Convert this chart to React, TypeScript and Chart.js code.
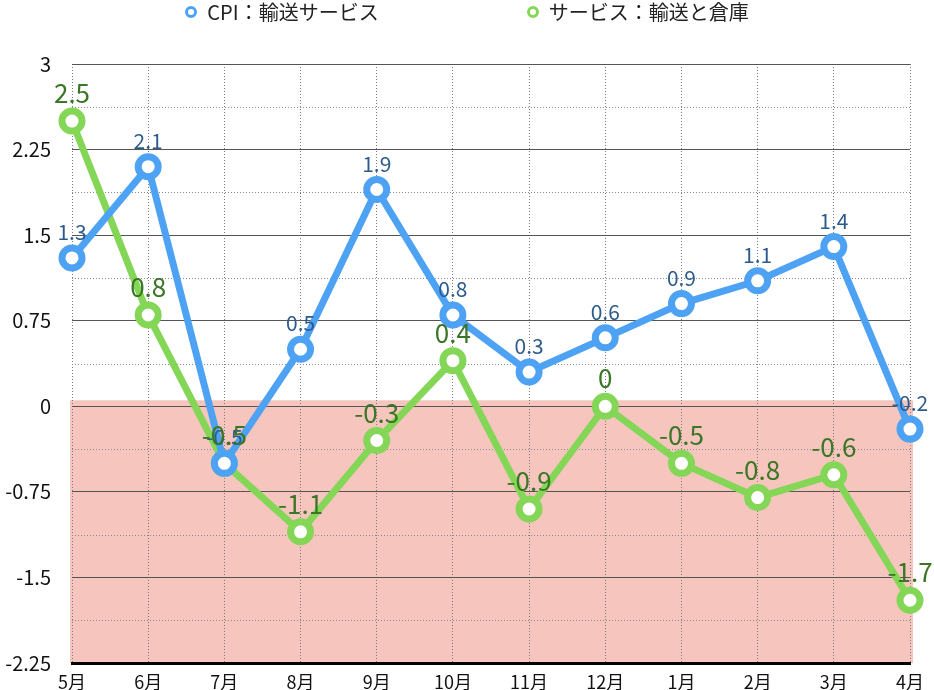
import { useEffect, useRef } from 'react';
import { Chart, registerables, Plugin } from 'chart.js';

Chart.register(...registerables);

const months = ['5月', '6月', '7月', '8月', '9月', '10月', '11月', '12月', '1月', '2月', '3月', '4月'];
const cpiTransport = [1.3, 2.1, -0.5, 0.5, 1.9, 0.8, 0.3, 0.6, 0.9, 1.1, 1.4, -0.2];
const servicesTransport = [2.5, 0.8, -0.5, -1.1, -0.3, 0.4, -0.9, 0, -0.5, -0.8, -0.6, -1.7];
const seriesNames = ['CPI：輸送サービス', 'サービス：輸送と倉庫'];

const BLUE = '#4da2f4';
const GREEN = '#84d657';
const BLUE_LABEL = '#2d5b8c';
const GREEN_LABEL = '#3b7627';
const FONT = '"Noto Sans CJK JP", "Noto Sans", sans-serif';

// pink band for the negative zone, under the grid
const negativeZone: Plugin<'line'> = {
  id: 'negativeZone',
  beforeDraw(chart) {
    const { ctx, chartArea } = chart;
    const y0 = chart.scales.y.getPixelForValue(0) - 6;
    ctx.save();
    ctx.fillStyle = '#f6c5bd';
    ctx.fillRect(chartArea.left - 2, y0, chartArea.right - chartArea.left + 5, chartArea.bottom - y0);
    ctx.restore();
  },
};

// dotted lines on the in-between ticks
const minorGrid: Plugin<'line'> = {
  id: 'minorGrid',
  beforeDatasetsDraw(chart) {
    const { ctx, chartArea } = chart;
    const y = chart.scales.y;
    ctx.save();
    ctx.strokeStyle = '#8a8a8a';
    ctx.lineWidth = 1;
    ctx.setLineDash([1, 2]);
    y.ticks.forEach((t, i) => {
      if (i % 2 === 0) return;
      const py = Math.round(y.getPixelForValue(t.value)) + 0.5;
      ctx.beginPath();
      ctx.moveTo(chartArea.left, py);
      ctx.lineTo(chartArea.right, py);
      ctx.stroke();
    });
    ctx.restore();
  },
};

const valueLabels: Plugin<'line'> = {
  id: 'valueLabels',
  afterDatasetsDraw(chart) {
    const { ctx } = chart;
    const styles = [
      { color: BLUE_LABEL, size: 21 },
      { color: GREEN_LABEL, size: 26 },
    ];
    ctx.save();
    ctx.textAlign = 'center';
    ctx.textBaseline = 'alphabetic';
    chart.data.datasets.forEach((ds, di) => {
      const meta = chart.getDatasetMeta(di);
      ctx.fillStyle = styles[di].color;
      ctx.font = `${styles[di].size}px ${FONT}`;
      meta.data.forEach((pt, i) => {
        ctx.fillText(String(ds.data[i]), pt.x, pt.y - 18);
      });
    });
    ctx.restore();
  },
};

function LegendItem({ label, color }: { label: string; color: string }) {
  return (
    <div style={{ display: 'flex', alignItems: 'center' }}>
      <span
        style={{
          width: 6,
          height: 6,
          borderRadius: '50%',
          border: `3px solid ${color}`,
          background: '#fff',
          marginRight: 10,
        }}
      />
      <span>{label}</span>
    </div>
  );
}

export default function App() {
  const canvasRef = useRef<HTMLCanvasElement>(null);

  useEffect(() => {
    document.body.style.margin = '0';
    if (!canvasRef.current) return;

    const chart = new Chart(canvasRef.current, {
      type: 'line',
      data: {
        labels: months,
        datasets: [
          {
            label: seriesNames[0],
            data: cpiTransport,
            borderColor: BLUE,
            backgroundColor: '#fff',
            borderWidth: 7,
            pointRadius: 10,
            pointBorderWidth: 7,
            pointBackgroundColor: '#fff',
            pointBorderColor: BLUE,
            tension: 0,
            clip: false,
          },
          {
            label: seriesNames[1],
            data: servicesTransport,
            borderColor: GREEN,
            backgroundColor: '#fff',
            borderWidth: 7,
            pointRadius: 10,
            pointBorderWidth: 7,
            pointBackgroundColor: '#fff',
            pointBorderColor: GREEN,
            tension: 0,
            clip: false,
          },
        ],
      },
      options: {
        responsive: false,
        animation: false,
        layout: { padding: { top: 64, right: 24, left: 0, bottom: 0 } },
        plugins: {
          legend: { display: false },
          tooltip: { enabled: false },
        },
        scales: {
          x: {
            afterFit: (s) => {
              s.height = 27;
            },
            grid: {
              color: '#7a7a7a',
              lineWidth: 1,
              drawTicks: false,
            },
            border: { display: true, color: '#000', width: 3, dash: [1, 2] },
            ticks: {
              color: '#111',
              padding: 8,
              font: { size: 18, family: FONT },
              maxRotation: 0,
            },
          },
          y: {
            min: -2.25,
            max: 3,
            afterFit: (s) => {
              s.width = 72;
            },
            afterBuildTicks: (s) => {
              const vals: number[] = [];
              for (let i = 0; i <= 14; i++) vals.push(-2.25 + i * 0.375);
              s.ticks = vals.map((v) => ({ value: v }));
            },
            grid: {
              drawTicks: true,
              tickLength: 21,
              tickColor: 'rgba(0,0,0,0)',
              color: (c) => (c.index % 2 === 0 ? '#555' : 'rgba(0,0,0,0)'),
            },
            border: { display: false },
            ticks: {
              color: '#111',
              padding: 0,
              font: { size: 20, family: FONT },
              callback: (v, i) => (i % 2 === 0 ? String(Number(v)) : ''),
            },
          },
        },
      },
      plugins: [negativeZone, minorGrid, valueLabels],
    });

    return () => {
      chart.destroy();
    };
  }, []);

  return (
    <div style={{ position: 'relative', width: 934, height: 690, fontFamily: FONT }}>
      <div
        style={{
          position: 'absolute',
          top: 0,
          left: 0,
          width: 934,
          display: 'flex',
          justifyContent: 'center',
          gap: 148,
          fontSize: 20,
          color: '#222',
          lineHeight: '24px',
        }}
      >
        <LegendItem label={seriesNames[0]} color={BLUE} />
        <LegendItem label={seriesNames[1]} color={GREEN} />
      </div>
      <canvas ref={canvasRef} width={934} height={690} />
    </div>
  );
}
